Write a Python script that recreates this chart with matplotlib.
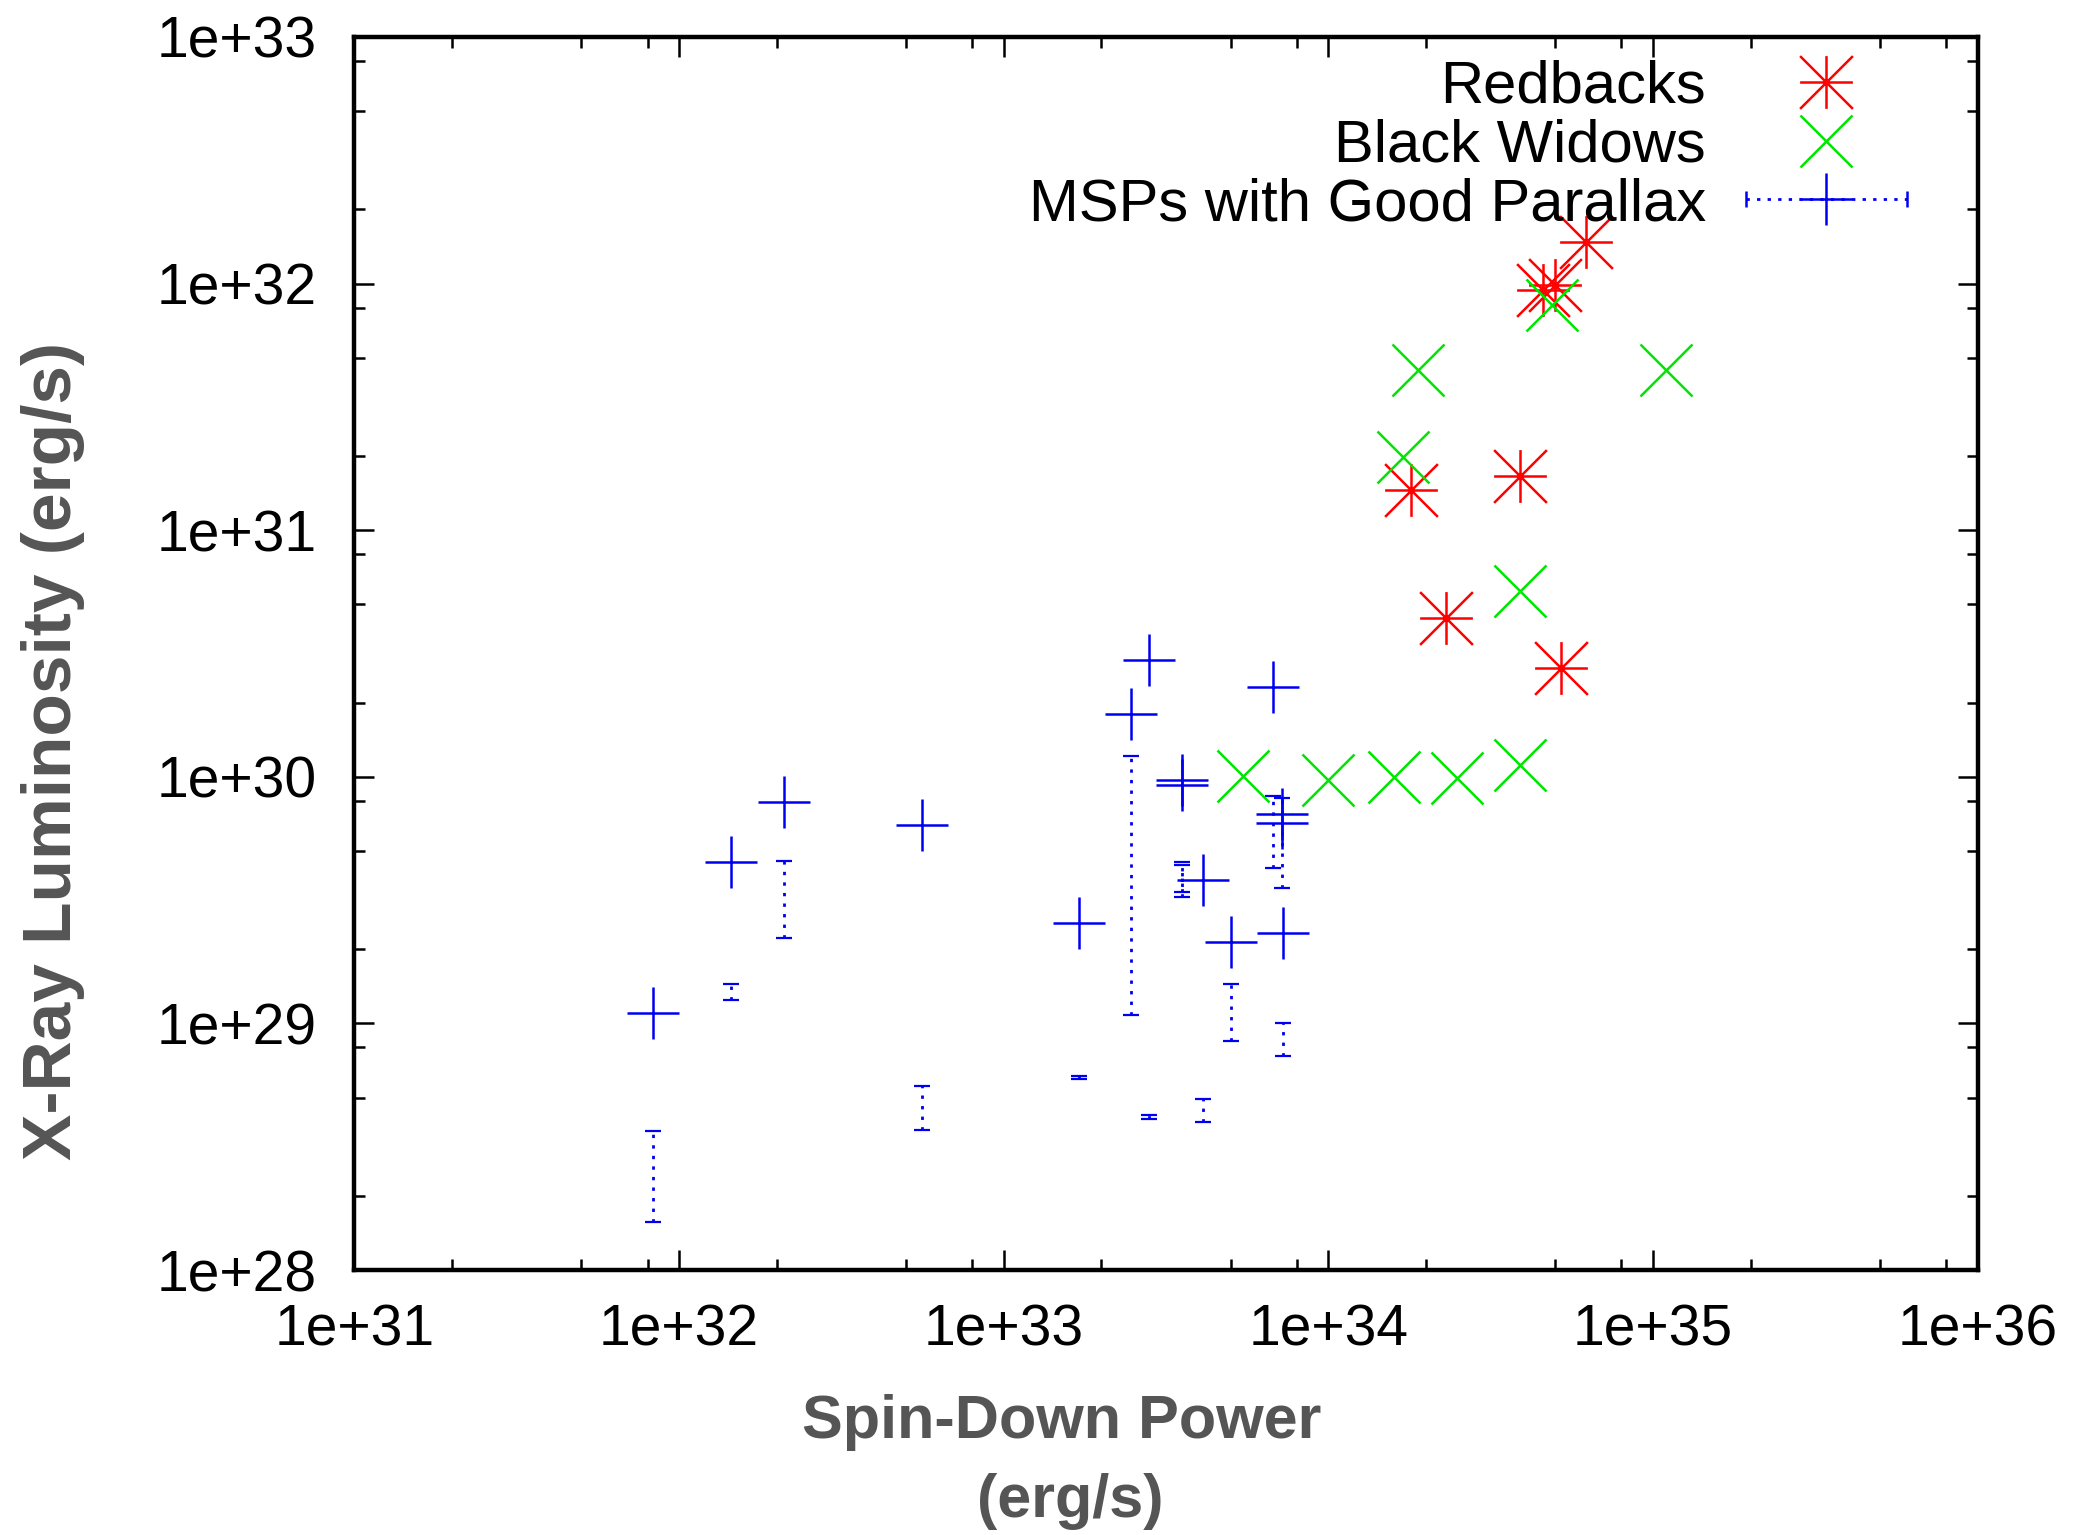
import matplotlib
matplotlib.use('Agg')
import numpy as np
import matplotlib.pyplot as plt
from matplotlib import font_manager
from matplotlib.path import Path
from matplotlib.ticker import LogLocator, NullFormatter
from matplotlib.container import ErrorbarContainer
from matplotlib.legend_handler import HandlerErrorbar

# Redbacks
rb_x = [6.2e34, 4.6e34, 5.0e34, 1.8e34, 3.9e34, 2.3e34, 5.2e34]
rb_y = [1.47e32, 9.4e31, 9.9e31, 1.46e31, 1.66e31, 4.4e30, 2.75e30]

# Black Widows
bw_x = [4.9e34, 1.89e34, 1.1e35, 1.70e34, 3.9e34, 5.46e33, 9.98e33, 1.59e34, 2.49e34, 3.89e34]
bw_y = [8.2e31, 4.46e31, 4.45e31, 1.98e31, 5.65e30, 1.01e30, 9.7e29, 9.95e29, 9.9e29, 1.12e30]

# MSPs with good parallax
msp_x = [8.3e31, 1.45e32, 2.1e32, 5.6e32, 1.71e33, 2.47e33, 2.81e33, 3.54e33, 3.54e33,
         4.11e33, 5.01e33, 6.77e33, 7.2e33, 7.2e33, 7.24e33]
msp_y = [1.1e29, 4.5e29, 7.9e29, 6.4e29, 2.55e29, 1.8e30, 2.97e30, 9.7e29, 9.25e29,
         3.8e29, 2.13e29, 2.31e30, 7.1e29, 6.5e29, 2.32e29]

# error bars (drawn on their own, as in the original)
bar_x = [8.3e31, 1.45e32, 2.1e32, 5.6e32, 1.71e33, 2.47e33, 2.81e33, 3.54e33, 3.54e33,
         4.11e33, 5.01e33, 6.77e33, 7.2e33, 7.24e33]
bar_lo = [1.56e28, 1.24e29, 2.22e29, 3.71e28, 5.93e28, 1.08e29, 4.1e28, 3.4e29, 3.27e29,
          4.0e28, 8.45e28, 4.26e29, 3.53e29, 7.4e28]
bar_hi = [3.66e28, 1.44e29, 4.55e29, 5.57e28, 6.15e28, 1.21e30, 4.25e28, 4.5e29, 4.38e29,
          4.92e28, 1.45e29, 8.4e29, 8.2e29, 1.0e29]

xticks = [1e31, 1e32, 1e33, 1e34, 1e35, 1e36]
xtick_labels = ['1e+31', '1e+32', '1e+33', '1e+34', '1e+35', '1e+36']
yticks = [1e28, 1e29, 1e30, 1e31, 1e32, 1e33]
ytick_labels = ['1e+28', '1e+29', '1e+30', '1e+31', '1e+32', '1e+33']


def pick_font(names):
    have = {f.name for f in font_manager.fontManager.ttflist}
    for n in names:
        if n in have:
            return n
    return 'DejaVu Sans'


sans = pick_font(['Liberation Sans', 'Arial', 'DejaVu Sans'])
narrow = pick_font(['Liberation Sans Narrow', 'Arial Narrow', 'DejaVu Sans Condensed'])
if narrow == 'DejaVu Sans':
    narrow, xtick_size = sans, 41
else:
    xtick_size = 48

RED = '#ff0000'
GREEN = '#00e600'
BLUE = '#0000f0'
GREY = '#555555'

# gnuplot style asterisk: plus and cross on top of each other
star = Path([(-1, 0), (1, 0), (0, -1), (0, 1), (-1, -1), (1, 1), (-1, 1), (1, -1)],
            [Path.MOVETO, Path.LINETO] * 4)

fig = plt.figure(figsize=(20.74, 15.35), dpi=100)
ax = fig.add_axes([0.1709, 0.1726, 0.7826, 0.8033])

ax.set_xscale('log')
ax.set_yscale('log')
ax.set_xlim(1e31, 1e36)
ax.set_ylim(1e28, 1e33)

ms = 38
mew = 1.8
dots = (0, (1.2, 2.6))

eb = ax.errorbar(bar_x, bar_lo, yerr=[np.zeros(len(bar_lo)), np.array(bar_hi) - np.array(bar_lo)],
                 fmt='none', ecolor=BLUE, elinewidth=2.0, capsize=5.5, capthick=1.6)
eb.lines[2][0].set_linestyle(dots)

ax.plot(msp_x, msp_y, ls='none', marker='+', ms=ms, mew=mew, color=BLUE)
rb_line, = ax.plot(rb_x, rb_y, ls='none', marker=star, ms=ms, mew=mew, color=RED, mfc='none')
bw_line, = ax.plot(bw_x, bw_y, ls='none', marker='x', ms=ms, mew=mew, color=GREEN)

# legend sample for the MSPs: horizontal dotted bar with caps, like gnuplot's key
dummy = ax.errorbar([np.nan], [np.nan], xerr=[[np.nan], [np.nan]], fmt='+', ms=ms, mew=mew,
                    color=BLUE, ecolor=BLUE, elinewidth=2.0, capsize=5.5, capthick=1.6)
dummy.lines[2][0].set_linestyle(dots)

leg = ax.legend([rb_line, bw_line, dummy],
                ['Redbacks', 'Black Widows', 'MSPs with Good Parallax'],
                loc='upper right', bbox_to_anchor=(0.9566, 0.9814), borderaxespad=0, borderpad=0,
                frameon=False, markerfirst=False, numpoints=1,
                handlelength=2.7, handletextpad=0.67, labelspacing=0.06,
                prop={'family': sans, 'size': 43},
                handler_map={ErrorbarContainer: HandlerErrorbar(xerr_size=1.35)})

for s in ax.spines.values():
    s.set_linewidth(3.2)

ax.xaxis.set_minor_locator(LogLocator(base=10, subs=[2, 5, 8]))
ax.yaxis.set_minor_locator(LogLocator(base=10, subs=[2, 5, 8]))
ax.xaxis.set_minor_formatter(NullFormatter())
ax.yaxis.set_minor_formatter(NullFormatter())
ax.set_xticks(xticks, labels=xtick_labels)
ax.set_yticks(yticks, labels=ytick_labels)
ax.tick_params(which='both', direction='in', top=True, right=True, width=1.8, color='black')
ax.tick_params(which='major', length=14.5)
ax.tick_params(which='minor', length=8)
ax.tick_params(axis='x', which='major', pad=24)
ax.tick_params(axis='y', which='major', pad=27)
for t in ax.get_xticklabels():
    t.set_fontfamily(narrow)
    t.set_fontsize(xtick_size)
for t in ax.get_yticklabels():
    t.set_fontfamily(sans)
    t.set_fontsize(41)

fig.text(0.0255, 0.511, 'X-Ray Luminosity (erg/s)', rotation=90, ha='center', va='center',
         family=sans, weight='bold', size=50, color=GREY)
fig.text(0.512, 0.0736, 'Spin-Down Power', ha='center', va='center',
         family=sans, weight='bold', size=44, color=GREY)
fig.text(0.516, 0.022, '(erg/s)', ha='center', va='center',
         family=sans, weight='bold', size=44, color=GREY)

fig.savefig('out.png', dpi=100)
